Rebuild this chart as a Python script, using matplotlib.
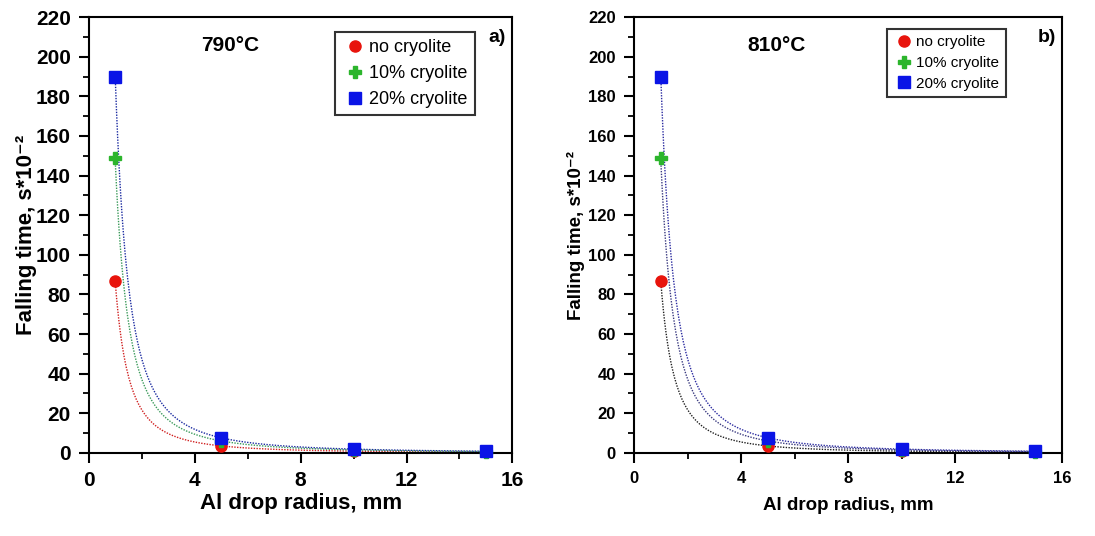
import numpy as np
import matplotlib.pyplot as plt
from matplotlib.ticker import MultipleLocator

plt.rcParams['font.family'] = ['Liberation Sans', 'DejaVu Sans']

# -------- data --------
radius = [1, 5, 10, 15]
labels = ["no cryolite", "10% cryolite", "20% cryolite"]
t790 = [[87, 3.5, 0.9, 0.4],
        [149, 6.0, 1.5, 0.7],
        [190, 7.7, 1.9, 0.85]]
t810 = [[87, 3.5, 0.9, 0.4],
        [149, 6.0, 1.5, 0.7],
        [190, 7.7, 1.9, 0.85]]
titles = ["790°C", "810°C"]
tags = ["a)", "b)"]

marker_styles = [dict(marker='o', color='#e8140c', ms=8),
                 dict(marker='P', color='#2cb52c', ms=8),
                 dict(marker='s', color='#0a14e6', ms=8.5)]
fit_cols = [['#d02020', '#3a9a5a', '#1a2aa0'],
            ['#202020', '#3a3a80', '#2a2aa0']]

fig = plt.figure(figsize=(10.95, 5.36), dpi=100)
ax_a = fig.add_axes([0.081, 0.155, 0.387, 0.813])
ax_b = fig.add_axes([0.579, 0.155, 0.391, 0.813])

x = np.array(radius, float)
xs = np.linspace(1, 15, 300)

# per panel settings
cfg = [dict(tick=15, xl=16, xpad=2, yl=16, ylx=-0.123, leg=(0.92, 0.975), lfs=13, lsp=0.5),
       dict(tick=12, xl=13.5, xpad=8, yl=13.5, ylx=-0.114, leg=(0.875, 0.98), lfs=11, lsp=0.45)]

for k, (ax, data) in enumerate(zip([ax_a, ax_b], [t790, t810])):
    c = cfg[k]
    for i, y in enumerate(data):
        y = np.array(y, float)
        # power-law fit, like the origin fit curves
        p = np.polyfit(np.log(x), np.log(y), 1)
        ax.plot(xs, np.exp(np.polyval(p, np.log(xs))), ls=(0, (1, 1)),
                lw=1.0, color=fit_cols[k][i], zorder=2)
    for i, y in enumerate(data):
        st = marker_styles[i]
        ax.plot(radius, y, ls='none', marker=st['marker'], color=st['color'],
                ms=st['ms'], mec=st['color'], label=labels[i], zorder=3,
                clip_on=False)

    ax.set_xlim(0, 16)
    ax.set_ylim(0, 220)
    ax.xaxis.set_major_locator(MultipleLocator(4))
    ax.xaxis.set_minor_locator(MultipleLocator(2))
    ax.yaxis.set_major_locator(MultipleLocator(20))
    ax.yaxis.set_minor_locator(MultipleLocator(10))
    for s in ax.spines.values():
        s.set_linewidth(1.5)
    ax.tick_params(which='major', direction='out', length=7, width=1.5,
                   labelsize=c['tick'], pad=6)
    ax.tick_params(which='minor', direction='out', length=4, width=1.3)
    for lab in ax.get_xticklabels() + ax.get_yticklabels():
        lab.set_fontweight('bold')

    ax.set_xlabel("Al drop radius, mm", fontsize=c['xl'], fontweight='bold',
                  labelpad=c['xpad'])
    ax.set_ylabel("Falling time, s*10⁻²", fontsize=c['yl'], fontweight='bold')
    ax.yaxis.set_label_coords(c['ylx'], 0.5)
    ax.text(0.334, 0.936, titles[k], transform=ax.transAxes, fontsize=15,
            fontweight='bold', ha='center', va='center')
    ax.text(0.985, 0.954, tags[k], transform=ax.transAxes, fontsize=14,
            fontweight='bold', ha='right', va='center')
    leg = ax.legend(loc='upper right', bbox_to_anchor=c['leg'],
                    fontsize=c['lfs'], frameon=True, fancybox=False,
                    edgecolor='black', handletextpad=0.1, handlelength=1.4,
                    borderpad=0.4, labelspacing=c['lsp'], borderaxespad=0.2)
    leg.get_frame().set_linewidth(1.5)

fig.savefig("out.png", dpi=100)
